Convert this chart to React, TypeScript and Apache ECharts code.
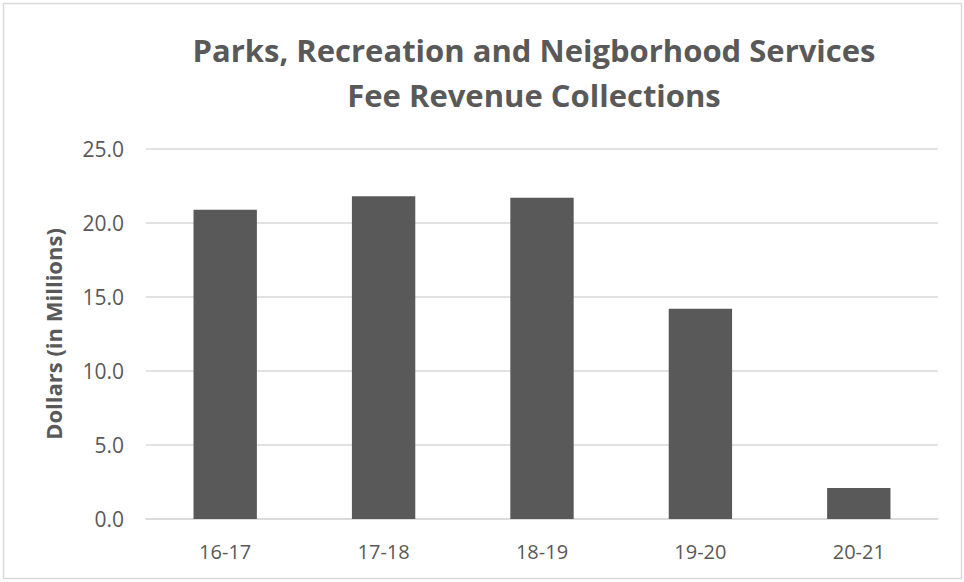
import React, { useEffect, useRef } from "react";
import * as echarts from "echarts";

const categories = ["16-17", "17-18", "18-19", "19-20", "20-21"];
const revenue = [20.9, 21.8, 21.7, 14.2, 2.1];
const titleLines = ["Parks, Recreation and Neigborhood Services", "Fee Revenue Collections"];
const yAxisName = "Dollars (in Millions)";

export default function App() {
  const ref = useRef<HTMLDivElement>(null);
  useEffect(() => {
    if (!ref.current) return;
    const chart = echarts.init(ref.current, undefined, { renderer: "svg" });
    const font = "'Open Sans', sans-serif";
    chart.setOption({
      animation: false,
      backgroundColor: "#ffffff",
      grid: { left: 146, right: 26, top: 149, bottom: 63 },
      xAxis: {
        type: "category",
        data: categories,
        axisLine: { show: true, lineStyle: { color: "#d9d9d9", width: 1.5 } },
        axisTick: { show: false },
        axisLabel: { color: "#595959", fontSize: 20, fontFamily: font, margin: 22 },
      },
      yAxis: {
        type: "value",
        min: 0,
        max: 25,
        interval: 5,
        name: yAxisName,
        nameLocation: "middle",
        nameGap: 82,
        nameTextStyle: { color: "#595959", fontSize: 22, fontWeight: "bold", fontFamily: font },
        axisLine: { show: false },
        axisTick: { show: false },
        splitLine: { lineStyle: { color: "#d9d9d9", width: 1.5 } },
        axisLabel: {
          color: "#595959",
          fontSize: 21,
          fontFamily: font,
          margin: 22,
          formatter: (v: number) => v.toFixed(1),
        },
      },
      series: [
        {
          type: "bar",
          data: revenue,
          barWidth: "40%",
          itemStyle: { color: "#595959" },
        },
      ],
      graphic: [
        {
          type: "rect",
          shape: { x: 3.5, y: 3.5, width: 958, height: 575 },
          style: { fill: "none", stroke: "#d9d9d9", lineWidth: 1.5 },
          silent: true,
        },
        {
          type: "text",
          x: 534,
          y: 50,
          style: {
            text: titleLines[0],
            fill: "#595959",
            font: `bold 31px ${font}`,
            align: "center",
            verticalAlign: "middle",
          },
        },
        {
          type: "text",
          x: 534,
          y: 95,
          style: {
            text: titleLines[1],
            fill: "#595959",
            font: `bold 31px ${font}`,
            align: "center",
            verticalAlign: "middle",
          },
        },
      ],
    });
    return () => chart.dispose();
  }, []);
  return (
    <div
      ref={ref}
      style={{ position: "fixed", left: 0, top: 0, width: 964, height: 582 }}
    />
  );
}
